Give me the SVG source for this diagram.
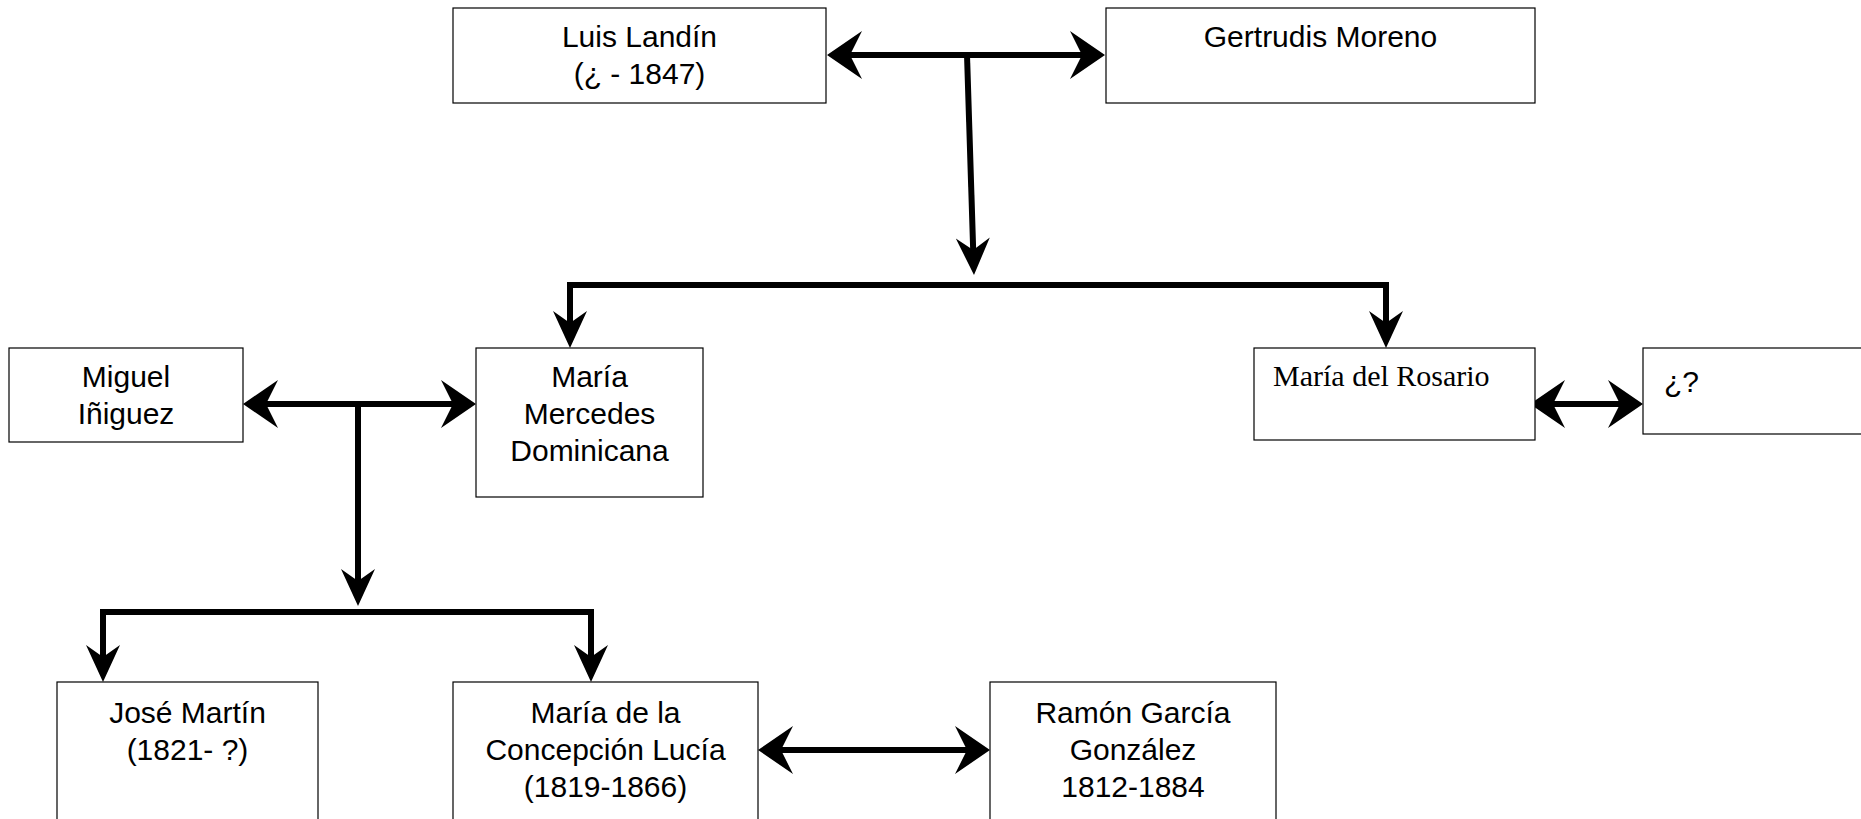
<svg xmlns="http://www.w3.org/2000/svg" width="1861" height="819" viewBox="0 0 1861 819">
  <style>
    .box { fill: #ffffff; stroke: #000000; stroke-width: 1.2; }
    .t { font-family: "Liberation Sans", Arial, sans-serif; font-size: 30px; fill: #000000; text-anchor: middle; }
    .ts { font-family: "Liberation Serif", "Times New Roman", serif; font-size: 30px; fill: #000000; }
    .link { fill: none; stroke: #000000; stroke-width: 6; }
    .down { marker-end: url(#headV); }
    .drop { marker-start: url(#headV); marker-end: url(#headV); }
    .both { marker-start: url(#headH); marker-end: url(#headH); }
  </style>
  <defs>
    <!-- wide head for the couple links -->
    <marker id="headH" markerUnits="userSpaceOnUse" markerWidth="40" markerHeight="52" viewBox="-2 -26 40 52" refX="12" refY="0" orient="auto-start-reverse">
      <path d="M0,-24 L35,0 L0,24 L12,0 Z" fill="#000000"/>
    </marker>
    <!-- narrow head for the descent links -->
    <marker id="headV" markerUnits="userSpaceOnUse" markerWidth="42" markerHeight="40" viewBox="-2 -20 42 40" refX="12" refY="0" orient="auto-start-reverse">
      <path d="M0,-17 L37,0 L0,17 L12,0 Z" fill="#000000"/>
    </marker>
  </defs>
  <rect width="1861" height="819" fill="#ffffff"/>

  <g id="connectors">
    <!-- couple: Luis / Gertrudis -->
    <line class="link both" x1="850" y1="55" x2="1082" y2="55"/>
    <line class="link down" x1="967" y1="55" x2="973.2" y2="250"/>
    <path class="link drop" d="M570,323 V285 H1386 V323"/>
    <!-- couple: Miguel / María Mercedes -->
    <line class="link both" x1="266" y1="404" x2="453" y2="404"/>
    <line class="link down" x1="358" y1="404" x2="358" y2="581"/>
    <path class="link drop" d="M103,657 V612 H591 V657"/>
    <!-- couple: María del Rosario / ¿? -->
    <line class="link both" x1="1553" y1="404" x2="1620" y2="404"/>
    <!-- couple: María de la Concepción / Ramón -->
    <line class="link both" x1="781" y1="750" x2="967" y2="750"/>
  </g>

  <g id="luis">
    <rect class="box" x="453" y="8" width="373" height="95"/>
    <text class="t" x="639.5" y="47">Luis Landín</text>
    <text class="t" x="639.5" y="84">(¿ - 1847)</text>
  </g>
  <g id="gertrudis">
    <rect class="box" x="1106" y="8" width="429" height="95"/>
    <text class="t" x="1320.5" y="47">Gertrudis Moreno</text>
  </g>
  <g id="miguel">
    <rect class="box" x="9" y="348" width="234" height="94"/>
    <text class="t" x="126" y="387">Miguel</text>
    <text class="t" x="126" y="424">Iñiguez</text>
  </g>
  <g id="mercedes">
    <rect class="box" x="476" y="348" width="227" height="149"/>
    <text class="t" x="589.5" y="387">María</text>
    <text class="t" x="589.5" y="424">Mercedes</text>
    <text class="t" x="589.5" y="461">Dominicana</text>
  </g>
  <g id="rosario">
    <rect class="box" x="1254" y="348" width="281" height="92"/>
    <text class="ts" x="1273" y="386">María del Rosario</text>
  </g>
  <g id="unknown">
    <rect class="box" x="1643" y="348" width="230" height="86"/>
    <text class="t" x="1664" y="392" style="text-anchor:start">¿?</text>
  </g>
  <g id="jose">
    <rect class="box" x="57" y="682" width="261" height="150"/>
    <text class="t" x="187.5" y="723">José Martín</text>
    <text class="t" x="187.5" y="760">(1821- ?)</text>
  </g>
  <g id="concepcion">
    <rect class="box" x="453" y="682" width="305" height="150"/>
    <text class="t" x="605.5" y="723">María de la</text>
    <text class="t" x="605.5" y="760">Concepción Lucía</text>
    <text class="t" x="605.5" y="797">(1819-1866)</text>
  </g>
  <g id="ramon">
    <rect class="box" x="990" y="682" width="286" height="150"/>
    <text class="t" x="1133" y="723">Ramón García</text>
    <text class="t" x="1133" y="760">González</text>
    <text class="t" x="1133" y="797">1812-1884</text>
  </g>
</svg>
